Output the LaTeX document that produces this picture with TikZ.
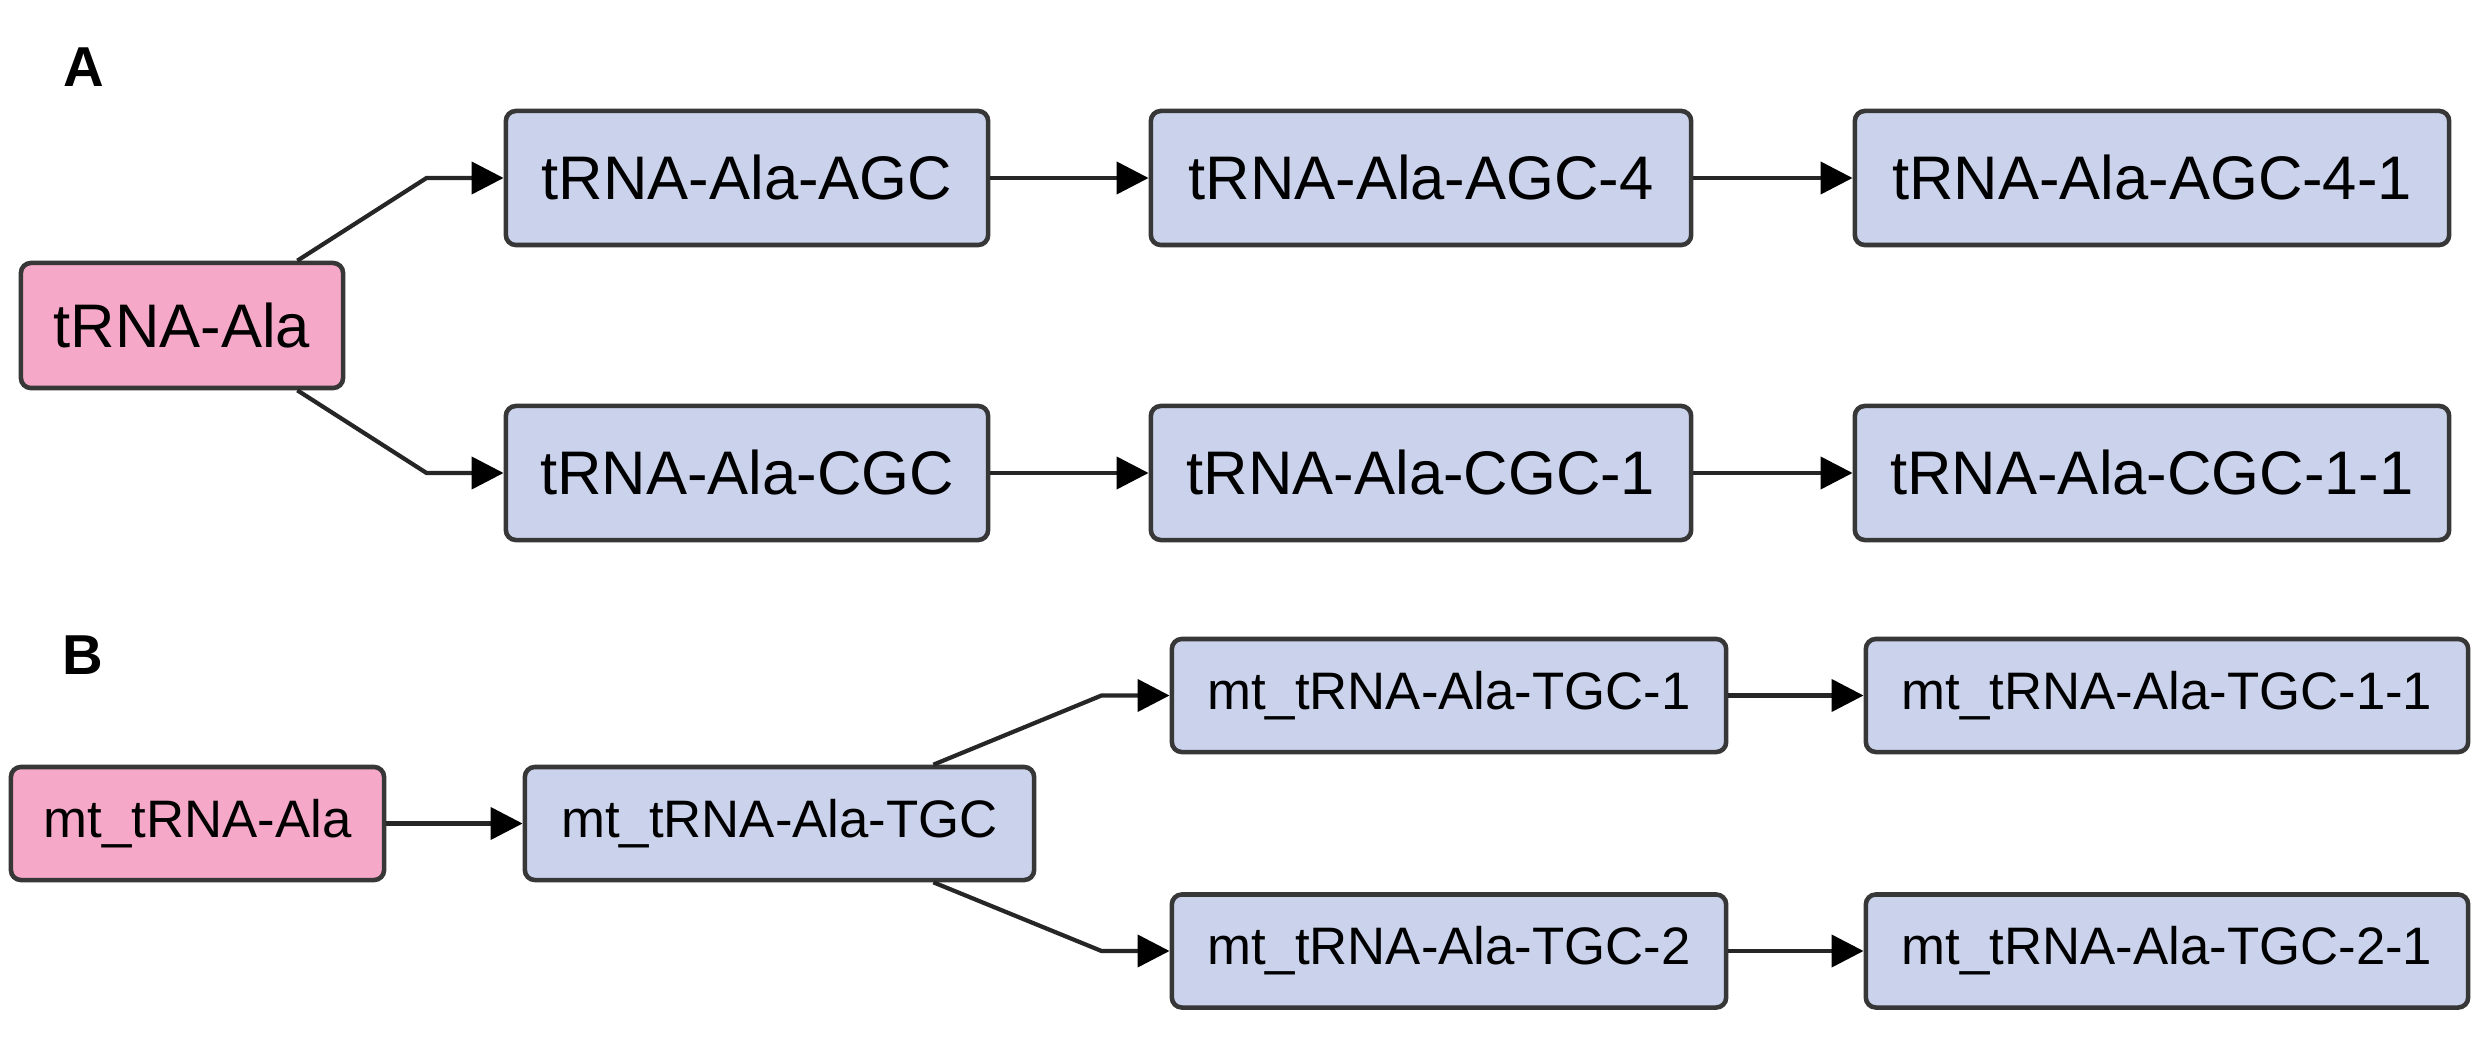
\documentclass[tikz,border=0pt]{standalone}
\usepackage{fontspec}
\setmainfont{Liberation Sans}
\usepackage{xcolor}
\usepackage{tikz}
\usetikzlibrary{arrows.meta}
\definecolor{rootpink}{RGB}{246,168,200}
\definecolor{childblue}{RGB}{203,211,236}
\definecolor{boxedge}{RGB}{55,55,55}

\begin{document}
\begin{tikzpicture}[x=0.01cm,y=-0.01cm,
    every node/.style={inner sep=0pt,text=black},
    paneltag/.style={font=\fontsize{16}{18}\selectfont\bfseries},
    genebox/.style={draw=boxedge,line width=1.3pt,rounded corners=0.1cm},
    rootbox/.style={genebox,fill=rootpink},
    childbox/.style={genebox,fill=childblue},
    rowA/.style={minimum height=1.34cm,font=\fontsize{17.5}{20}\selectfont},
    rowB/.style={minimum height=1.13cm,font=\fontsize{15}{18}\selectfont},
    edge/.style={draw=black!85,line width=1.2pt,-{Triangle[length=0.32cm,width=0.32cm,color=black]}}]

    \useasboundingbox (0,0) rectangle (2479,1058);

    % Panel A
    \node[paneltag] (tagA) at (84,67) {A};
    \node[rootbox,rowA,minimum height=1.25cm,minimum width=3.22cm] (ala) at (182,325.5) {tRNA-Ala};

    \node[childbox,rowA,minimum width=4.82cm] (agc)   at (747,178)  {tRNA-Ala-AGC};
    \node[childbox,rowA,minimum width=5.40cm] (agcf)  at (1421,178) {tRNA-Ala-AGC-4};
    \node[childbox,rowA,minimum width=5.94cm] (agcff) at (2152,178) {tRNA-Ala-AGC-4-1};

    \node[childbox,rowA,minimum width=4.82cm] (cgc)   at (747,473)  {tRNA-Ala-CGC};
    \node[childbox,rowA,minimum width=5.40cm] (cgco)  at (1421,473) {tRNA-Ala-CGC-1};
    \node[childbox,rowA,minimum width=5.94cm] (cgcoo) at (2152,473) {tRNA-Ala-CGC-1-1};

    \draw[edge] ([xshift=-0.48cm]ala.north east) -- ([xshift=-0.77cm]agc.west) -- (agc.west);
    \draw[edge] ([xshift=-0.48cm]ala.south east) -- ([xshift=-0.77cm]cgc.west) -- (cgc.west);
    \draw[edge] (agc) -- (agcf);
    \draw[edge] (agcf) -- (agcff);
    \draw[edge] (cgc) -- (cgco);
    \draw[edge] (cgco) -- (cgcoo);

    % Panel B
    \node[paneltag] (tagB) at (83,655) {B};
    \node[rootbox,rowB,minimum width=3.73cm] (mtala) at (197.5,823.5) {mt\_tRNA-Ala};
    \node[childbox,rowB,minimum width=5.09cm] (tgc) at (779.5,823.5) {mt\_tRNA-Ala-TGC};

    \node[childbox,rowB,minimum width=5.54cm] (tgco)  at (1449,695.5) {mt\_tRNA-Ala-TGC-1};
    \node[childbox,rowB,minimum width=6.02cm] (tgcoo) at (2167,695.5) {mt\_tRNA-Ala-TGC-1-1};
    \node[childbox,rowB,minimum width=5.54cm] (tgct)  at (1449,951)   {mt\_tRNA-Ala-TGC-2};
    \node[childbox,rowB,minimum width=6.02cm] (tgcto) at (2167,951)   {mt\_tRNA-Ala-TGC-2-1};

    \draw[edge] (mtala) -- (tgc);
    \draw[edge] ([xshift=-1.03cm]tgc.north east) -- ([xshift=-0.68cm]tgco.west) -- (tgco.west);
    \draw[edge] ([xshift=-1.03cm]tgc.south east) -- ([xshift=-0.68cm]tgct.west) -- (tgct.west);
    \draw[edge] (tgco) -- (tgcoo);
    \draw[edge] (tgct) -- (tgcto);

\end{tikzpicture}
\end{document}
